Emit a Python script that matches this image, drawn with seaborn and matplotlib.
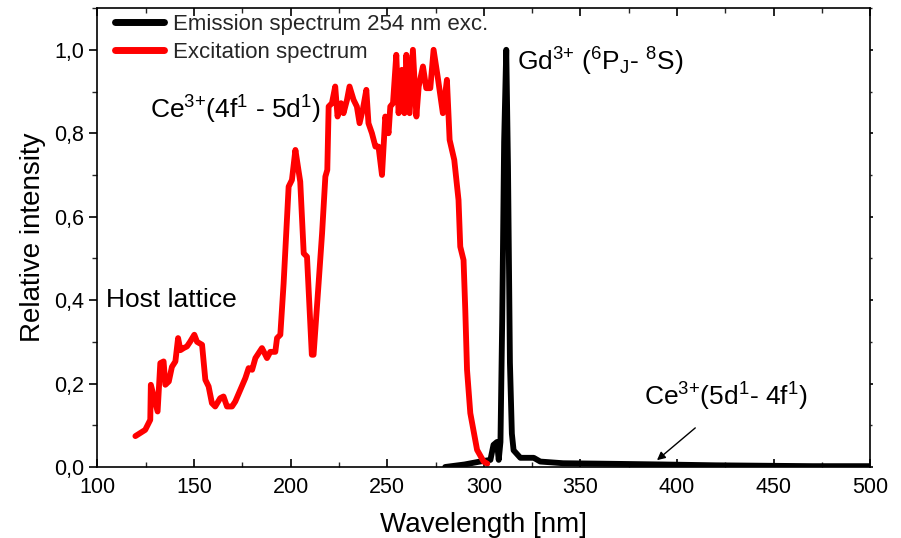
import matplotlib
matplotlib.use("Agg")
import matplotlib.pyplot as plt
import seaborn as sns
import pandas as pd
from matplotlib.ticker import MultipleLocator, FuncFormatter

# Excitation spectrum (red)
exc_wavelength = [119.7, 124.8, 127.4, 127.7, 131.2, 132.6, 134.3, 135.2, 137.0, 138.6,
                  140.4, 141.8, 143.0, 144.7, 146.4, 148.0, 150.2, 151.6, 154.2, 155.9,
                  157.6, 159.3, 161.0, 163.6, 165.3, 167.1, 169.7, 171.4, 174.0, 176.6,
                  178.3, 180.1, 181.8, 185.2, 187.8, 189.5, 192.1, 193.0, 194.7, 196.4,
                  197.3, 199.0, 200.7, 202.5, 204.2, 205.0, 206.8, 208.5, 211.0, 211.9,
                  214.5, 216.3, 218.0, 219.0, 219.7, 221.4, 223.1, 224.3, 226.1, 227.4,
                  229.2, 230.5, 232.6, 234.3, 235.7, 237.5, 239.2, 240.3, 242.1, 243.9,
                  245.5, 247.3, 249.0, 250.7, 251.6, 253.0, 254.7, 255.9, 257.6, 258.9,
                  259.9, 261.6, 263.3, 265.1, 266.3, 268.5, 270.2, 272.3, 274.0, 276.1,
                  278.8, 280.9, 282.3, 284.7, 286.9, 287.8, 289.5, 290.4, 291.3, 293.0,
                  296.5, 299.9, 301.8]
exc_intensity = [0.074, 0.089, 0.113, 0.197, 0.133, 0.249, 0.253, 0.197, 0.205, 0.240,
                 0.253, 0.309, 0.280, 0.285, 0.289, 0.300, 0.317, 0.300, 0.293, 0.209,
                 0.193, 0.153, 0.145, 0.165, 0.169, 0.145, 0.145, 0.157, 0.185, 0.213,
                 0.237, 0.233, 0.261, 0.285, 0.261, 0.276, 0.276, 0.309, 0.317, 0.440,
                 0.520, 0.672, 0.688, 0.760, 0.708, 0.684, 0.512, 0.504, 0.269, 0.269,
                 0.440, 0.560, 0.696, 0.712, 0.864, 0.872, 0.912, 0.840, 0.872, 0.848,
                 0.880, 0.912, 0.880, 0.864, 0.824, 0.860, 0.904, 0.824, 0.800, 0.768,
                 0.768, 0.700, 0.840, 0.800, 0.864, 0.872, 0.988, 0.848, 0.952, 0.848,
                 0.988, 0.848, 1.000, 0.840, 0.912, 0.960, 0.908, 0.908, 1.000, 0.936,
                 0.848, 0.928, 0.784, 0.736, 0.640, 0.528, 0.496, 0.376, 0.233, 0.129,
                 0.041, 0.013, 0.008]

# Emission spectrum under 254 nm excitation (black)
em_wavelength = [280.0, 290.0, 298.0, 303.4, 305.0, 306.8, 307.7, 308.6, 309.5, 310.5,
                 311.6, 312.5, 313.5, 314.5, 315.4, 318.9, 322.3, 325.8, 329.2, 341.0,
                 360.0, 393.0, 420.0, 444.6, 470.0, 500.0]
em_intensity = [0.000, 0.006, 0.013, 0.017, 0.053, 0.060, 0.017, 0.060, 0.350, 0.780,
                1.000, 0.720, 0.250, 0.080, 0.040, 0.022, 0.022, 0.022, 0.013, 0.009,
                0.008, 0.006, 0.004, 0.003, 0.002, 0.002]

x_ticks = [100, 150, 200, 250, 300, 350, 400, 450, 500]
y_ticks = [0.0, 0.2, 0.4, 0.6, 0.8, 1.0]

sns.set_theme(style="white")
plt.rcParams["font.family"] = ["Liberation Sans", "DejaVu Sans"]
plt.rcParams["mathtext.fontset"] = "custom"
plt.rcParams["mathtext.rm"] = "Liberation Sans"
plt.rcParams["mathtext.it"] = "Liberation Sans:italic"
plt.rcParams["mathtext.bf"] = "Liberation Sans:bold"

fig = plt.figure(figsize=(9.01, 5.38), dpi=100)
ax = fig.add_axes([0.108, 0.132, 0.858, 0.853])

em_df = pd.DataFrame({"wl": em_wavelength, "I": em_intensity})
exc_df = pd.DataFrame({"wl": exc_wavelength, "I": exc_intensity})

sns.lineplot(data=em_df, x="wl", y="I", color="black", linewidth=4.2, ax=ax,
             label="Emission spectrum 254 nm exc.", sort=False)
sns.lineplot(data=exc_df, x="wl", y="I", color="#ff0000", linewidth=4.2, ax=ax,
             label="Excitation spectrum", sort=False)

ax.set_xlim(100, 500)
ax.set_ylim(0, 1.1)
ax.set_xticks(x_ticks)
ax.set_yticks(y_ticks)
ax.xaxis.set_minor_locator(MultipleLocator(25))
ax.yaxis.set_minor_locator(MultipleLocator(0.1))
ax.yaxis.set_major_formatter(FuncFormatter(lambda v, p: f"{v:.1f}".replace(".", ",")))

for s in ax.spines.values():
    s.set_color("black")
    s.set_linewidth(1.2)

ax.tick_params(axis="x", which="major", direction="in", length=6, width=1.2,
               top=True, bottom=True, labelsize=15.5, colors="black", pad=7)
ax.tick_params(axis="x", which="minor", direction="in", length=3.5, width=1.0,
               top=True, bottom=True)
ax.tick_params(axis="y", which="major", direction="out", length=6, width=1.2,
               left=True, right=True, labelsize=15.5, colors="black")
ax.tick_params(axis="y", which="minor", direction="out", length=3.5, width=1.0,
               left=True, right=True)
for t in ax.yaxis.get_ticklines(minor=False)[1::2]:
    t.set_markersize(2)
for t in ax.yaxis.get_ticklines(minor=True)[1::2]:
    t.set_markersize(1.5)

ax.set_xlabel("Wavelength [nm]", fontsize=20, color="black", labelpad=10)
ax.set_ylabel("Relative intensity", fontsize=20, color="black", labelpad=6)

leg = ax.legend(loc="upper left", bbox_to_anchor=(0.012, 1.006), frameon=False,
                fontsize=16, handlelength=2.2, handletextpad=0.4,
                labelspacing=0.3, borderaxespad=0.0)
for line in leg.get_lines():
    line.set_linewidth(5)

ce3 = r"Ce$^{\text{3+}}$"
ax.text(138.3, 0.40, "Host lattice", fontsize=19, ha="center", va="center", color="black")
ax.text(171.4, 0.856, ce3 + r"(4f$^{1}$ - 5d$^{1}$)", fontsize=19,
        ha="center", va="center", color="black")
ax.text(317.0, 0.97, r"Gd$^{\text{3+}}$ ($^{6}$P$_{\mathrm{J}}$- $^{8}$S)", fontsize=19,
        ha="left", va="center", color="black")
ax.text(425, 0.168, ce3 + r"(5d$^{1}$- 4f$^{1}$)", fontsize=19, ha="center",
        va="center", color="black")
ax.annotate("", xy=(388.5, 0.012), xytext=(410.5, 0.098),
            arrowprops=dict(arrowstyle="-|>", color="black", lw=1.0,
                            mutation_scale=12))

fig.savefig("out.png", dpi=100)
